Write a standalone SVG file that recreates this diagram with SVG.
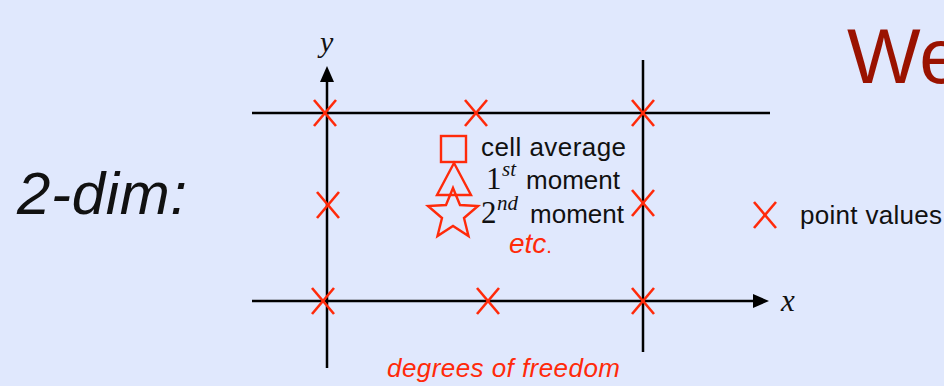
<svg xmlns="http://www.w3.org/2000/svg" width="944" height="386" viewBox="0 0 944 386">
<defs>
<style>
.ax{stroke:#000;stroke-width:2.5;fill:none}
.xm{stroke:#ff2a0a;stroke-width:2.6;fill:none}
.sh{stroke:#ff2a0a;stroke-width:2.4;fill:none}
.t{font-family:"Liberation Sans",Arial,sans-serif;fill:#111}
.m{font-family:"Liberation Serif","Times New Roman",serif;fill:#111}
</style>
<g id="xmark"><line x1="-11" y1="-13" x2="11" y2="13"/><line x1="11" y1="-13" x2="-11" y2="13"/></g>
<marker id="arr" viewBox="0 0 16 14" refX="1" refY="7" markerWidth="16" markerHeight="14" markerUnits="userSpaceOnUse" orient="auto"><path d="M0,0 L16,7 L0,14 Z" fill="#000"/></marker>
</defs>
<rect width="944" height="386" fill="#e0e8fd"/>
<g id="connectors">
<line class="ax" x1="252" y1="113" x2="770" y2="113"/>
<line class="ax" x1="252" y1="301" x2="754" y2="301" marker-end="url(#arr)"/>
<line class="ax" x1="327" y1="368" x2="327" y2="81" marker-end="url(#arr)"/>
<line class="ax" x1="643" y1="60" x2="643" y2="352"/>
</g>
<g id="points" class="xm">
<use href="#xmark" x="325" y="113"/>
<use href="#xmark" x="476" y="113"/>
<use href="#xmark" x="643" y="113"/>
<use href="#xmark" x="328" y="205"/>
<use href="#xmark" x="643" y="203"/>
<use href="#xmark" x="323" y="301"/>
<use href="#xmark" x="488" y="301"/>
<use href="#xmark" x="643" y="301"/>
</g>
<g id="title"><text class="t" x="847" y="83" font-size="78" style="fill:#9a1200">We</text></g>
<g id="label-2dim"><text class="t" x="17" y="214" font-size="60" font-style="italic" textLength="170">2-dim:</text></g>
<g id="axis-labels">
<text class="m" x="320" y="52" font-size="30" font-style="italic">y</text>
<text class="m" x="781" y="311" font-size="31" font-style="italic">x</text>
</g>
<g id="dof-symbols">
<rect class="sh" x="441" y="136" width="25" height="26"/>
<polygon class="sh" points="454,163 437,195 471,195"/>
<polygon class="sh" points="453,188 460,205 478,206 464,218 468.5,236 453,226 437.5,236 442,218 428,206 446,205"/>
</g>
<g id="dof-labels">
<text class="t" x="481" y="156" font-size="26" textLength="145" lengthAdjust="spacing">cell average</text>
<text class="m" x="486" y="189" font-size="31">1</text>
<text class="m" x="502" y="176" font-size="21" font-style="italic">st</text>
<text class="t" x="526" y="189" font-size="26" textLength="94" lengthAdjust="spacing">moment</text>
<text class="m" x="481" y="223" font-size="31">2</text>
<text class="m" x="497" y="210" font-size="21" font-style="italic">nd</text>
<text class="t" x="530" y="223" font-size="26" textLength="94" lengthAdjust="spacing">moment</text>
<text class="t" x="509" y="253" font-size="28" font-style="italic" style="fill:#ff2a0a">etc<tspan font-style="normal" font-size="20">.</tspan></text>
</g>
<g id="legend">
<use href="#xmark" x="765" y="215" class="xm"/>
<text class="t" x="800" y="224" font-size="26" textLength="142" lengthAdjust="spacing">point values</text>
</g>
<g id="caption"><text class="t" x="387" y="377" font-size="26" font-style="italic" style="fill:#ff2a0a" textLength="233" lengthAdjust="spacing">degrees of freedom</text></g>
</svg>
